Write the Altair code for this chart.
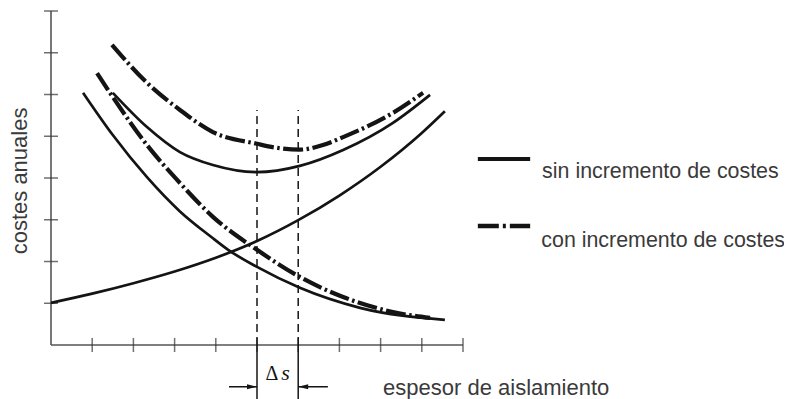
import altair as alt
import pandas as pd

# ---- data (axis units: x 0..10, y 0..8) ----
ins_x = [0.0, 1.0, 2.0, 3.0, 4.0, 5.0, 6.0, 7.0, 8.0, 9.0, 9.56]
ins_y = [1.01, 1.23, 1.48, 1.76, 2.09, 2.49, 2.99, 3.58, 4.27, 5.08, 5.60]

ene_x = [0.78, 1.5, 2.33, 3.13, 3.9, 4.3, 5.0, 6.04, 7.5, 9.56]
ene_y = [6.04, 5.03, 4.02, 3.20, 2.58, 2.28, 1.87, 1.37, 0.89, 0.60]

tot_x = [1.5, 2.33, 3.13, 3.93, 5.0, 6.04, 7.09, 8.3, 9.2]
tot_y = [6.04, 5.22, 4.62, 4.31, 4.14, 4.29, 4.67, 5.32, 5.99]

ene2_x = [1.12, 1.5, 2.33, 3.13, 3.93, 5.0, 6.04, 7.09, 8.3, 9.2]
ene2_y = [6.51, 5.94, 4.79, 3.88, 3.07, 2.28, 1.63, 1.15, 0.79, 0.65]

tot2_x = [1.48, 2.33, 3.13, 3.93, 5.0, 5.5, 6.04, 6.6, 7.09, 8.3, 9.03]
tot2_y = [7.19, 6.28, 5.63, 5.10, 4.82, 4.72, 4.68, 4.79, 4.98, 5.56, 6.04]

x_ticks = [1, 2, 3, 4, 5, 6, 7, 8, 9, 10]
y_ticks = [1, 2, 3, 4, 5, 6, 7, 8]
opt_x = [5, 6]          # optimum thickness without / with cost increase
opt_top = 5.63
ds_y = -1.0
ds_left = 4.32
ds_right = 6.72

legend_labels = ["sin incremento de costes", "con incremento de costes"]
x_title = "espesor de aislamiento"
y_title = "costes anuales"

# ---- scales (page mapping) ----
XS = alt.Scale(domain=[-1.0437, 17.791], nice=False, zero=False)
YS = alt.Scale(domain=[-1.293, 8.072], nice=False, zero=False)


def X(f="x"):
    return alt.X(f"{f}:Q", scale=XS, axis=None)


def Y(f="y"):
    return alt.Y(f"{f}:Q", scale=YS, axis=None)


def curves(pairs):
    rows = []
    for name, xs, ys in pairs:
        rows += [{"curve": name, "x": a, "y": b} for a, b in zip(xs, ys)]
    return pd.DataFrame(rows)


solid_df = curves([("ins", ins_x, ins_y), ("ene", ene_x, ene_y), ("tot", tot_x, tot_y)])
dash_df = curves([("ene2", ene2_x, ene2_y), ("tot2", tot2_x, tot2_y)])

INK = "#141414"
AX = "#555555"
TXT = "#3a3a3a"

solid = alt.Chart(solid_df).mark_line(color=INK, strokeWidth=2.7, interpolate="monotone").encode(
    x=X(), y=Y(), detail="curve:N")
dashdot = alt.Chart(dash_df).mark_line(color=INK, strokeWidth=4.2, interpolate="monotone",
                                       strokeDash=[20, 3.5, 2.5, 3.5]).encode(
    x=X(), y=Y(), detail="curve:N")

# axes
yaxis = alt.Chart(pd.DataFrame({"x": [0], "y": [0], "y2": [max(y_ticks)]})).mark_rule(
    color=AX, strokeWidth=1.6).encode(x=X(), y=Y(), y2="y2:Q")
xaxis = alt.Chart(pd.DataFrame({"x": [0], "x2": [max(x_ticks)], "y": [0]})).mark_rule(
    color=AX, strokeWidth=1.6).encode(x=X(), x2="x2:Q", y=Y())
yt = alt.Chart(pd.DataFrame({"x": [0] * len(y_ticks), "y": y_ticks})).mark_tick(
    orient="horizontal", size=14, thickness=1.5, color="#333").encode(x=X(), y=Y())
xt = alt.Chart(pd.DataFrame({"x": x_ticks, "y": [0] * len(x_ticks)})).mark_tick(
    orient="vertical", size=14, thickness=1.5, color="#333").encode(x=X(), y=Y())

# optimum lines
vdash = alt.Chart(pd.DataFrame({"x": opt_x, "y": [0, 0], "y2": [opt_top] * 2})).mark_rule(
    color=INK, strokeWidth=1.5, strokeDash=[8, 5]).encode(x=X(), y=Y(), y2="y2:Q")
vsolid = alt.Chart(pd.DataFrame({"x": opt_x, "y": [-1.4, -1.4], "y2": [0, 0]})).mark_rule(
    color=INK, strokeWidth=1.5).encode(x=X(), y=Y(), y2="y2:Q")

# delta s arrows
shafts = alt.Chart(pd.DataFrame({"x": [ds_left, opt_x[1]], "x2": [opt_x[0], ds_right],
                                 "y": [ds_y, ds_y]})).mark_rule(color=INK, strokeWidth=1.5).encode(
    x=X(), x2="x2:Q", y=Y())
head_r = alt.Chart(pd.DataFrame({"x": [opt_x[0]], "y": [ds_y]})).mark_point(
    shape="M-2,-0.5L0,0L-2,0.5Z", size=100, filled=True, color=INK, opacity=1).encode(x=X(), y=Y())
head_l = alt.Chart(pd.DataFrame({"x": [opt_x[1]], "y": [ds_y]})).mark_point(
    shape="M2,-0.5L0,0L2,0.5Z", size=100, filled=True, color=INK, opacity=1).encode(x=X(), y=Y())
delta = alt.Chart(pd.DataFrame({"x": [5.36], "y": [-0.84], "t": ["Δ"]})).mark_text(
    font="Liberation Serif", fontSize=20, color=INK, align="center", baseline="alphabetic").encode(
    x=X(), y=Y(), text="t:N")
ess = alt.Chart(pd.DataFrame({"x": [5.69], "y": [-0.84], "t": ["s"]})).mark_text(
    font="Liberation Serif", fontSize=22, fontStyle="italic", color=INK, align="center",
    baseline="alphabetic").encode(x=X(), y=Y(), text="t:N")

# legend
leg_solid = alt.Chart(pd.DataFrame({"x": [10.36], "x2": [11.63], "y": [4.455]})).mark_rule(
    color=INK, strokeWidth=4).encode(x=X(), x2="x2:Q", y=Y())
leg_dash = alt.Chart(pd.DataFrame({"x": [10.36], "x2": [11.63], "y": [2.85]})).mark_rule(
    color=INK, strokeWidth=4.5, strokeDash=[21, 4, 3, 4, 30]).encode(x=X(), x2="x2:Q", y=Y())
leg_text = alt.Chart(pd.DataFrame({"x": [11.92, 11.90], "y": [4.0, 2.35], "t": legend_labels})).mark_text(
    font="Liberation Sans", fontSize=21.4, color=TXT, align="left", baseline="alphabetic").encode(
    x=X(), y=Y(), text="t:N")

# axis titles
xtitle = alt.Chart(pd.DataFrame({"x": [8.06], "y": [-1.198], "t": [x_title]})).mark_text(
    font="Liberation Sans", fontSize=22, color=TXT, align="left", baseline="alphabetic").encode(
    x=X(), y=Y(), text="t:N")
ytitle = alt.Chart(pd.DataFrame({"x": [-0.58], "y": [3.93], "t": [y_title]})).mark_text(
    font="Liberation Sans", fontSize=22, color=TXT, align="center", baseline="alphabetic",
    angle=270).encode(x=X(), y=Y(), text="t:N")

chart = alt.layer(
    yaxis, xaxis, yt, xt, vdash, vsolid, shafts, head_r, head_l, delta, ess,
    solid, dashdot, leg_solid, leg_dash, leg_text, xtitle, ytitle
).properties(width=776, height=391, padding=0, autosize="none").configure_view(stroke=None)

chart.save("out.html", embed_options={"renderer": "svg", "actions": False})
